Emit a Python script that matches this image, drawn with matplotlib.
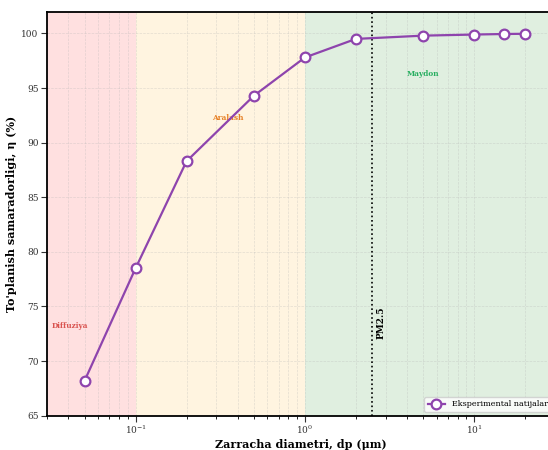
import matplotlib
matplotlib.use("Agg")
import matplotlib.pyplot as plt

plt.rcParams['font.family'] = 'serif'
plt.rcParams['font.serif'] = ['DejaVu Serif']
plt.rcParams['mathtext.fontset'] = 'dejavuserif'

# Particle diameter (um) and collection efficiency (%)
diameter = [0.05, 0.1, 0.2, 0.5, 1.0, 2.0, 5.0, 10.0, 15.0, 20.0]
efficiency = [68.2, 78.5, 88.3, 94.3, 97.8, 99.5, 99.8, 99.9, 99.95, 99.97]

# Mechanism zones
zone_edges = [0.03, 0.1, 1.0, 100.0]
zone_names = ['Diffuziya', 'Aralash', 'Maydon']
zone_fill = ['red', 'orange', 'green']
zone_text = ['#d9534f', '#e67e22', '#27ae60']
label_x = [0.041, 0.35, 5.0]
label_y = [73.2, 92.3, 96.3]

pm25 = 2.5

fig = plt.figure(figsize=(5.48, 4.5), dpi=100)
ax = fig.add_axes([0.0858, 0.0762, 0.927, 0.898])

for i in range(3):
    ax.axvspan(zone_edges[i], zone_edges[i + 1], color=zone_fill[i], alpha=0.12, lw=0)
    ax.text(label_x[i], label_y[i], zone_names[i], color=zone_text[i],
            fontsize=5.3, fontweight='bold', ha='center', va='center')

ax.axvline(pm25, color='black', ls=':', lw=1.2)
ax.text(pm25 * 1.13, 73.5, 'PM2.5', rotation=90, fontsize=6.5, fontweight='bold',
        ha='center', va='center')

ax.plot(diameter, efficiency, '-o', color='#8e44ad', lw=1.6, ms=7,
        mfc='white', mec='#8e44ad', mew=1.6, label='Eksperimental natijalar', zorder=5)

ax.set_xscale('log')
ax.set_xlim(0.03, 30)
ax.set_ylim(65, 102)
ax.grid(True, which='both', ls='--', lw=0.5, alpha=0.35)
ax.set_xlabel('Zarracha diametri, dp (μm)', fontsize=8, fontweight='bold', labelpad=2)
ax.set_ylabel("To'planish samaradorligi, η (%)", fontsize=8, fontweight='bold', labelpad=3)
ax.tick_params(labelsize=6.5, length=4, pad=2, colors='#333333')
for s in ax.spines.values():
    s.set_linewidth(1.3)

ax.legend(loc='lower right', fontsize=5.8, handlelength=2.2)

fig.savefig('out.png', dpi=100)
